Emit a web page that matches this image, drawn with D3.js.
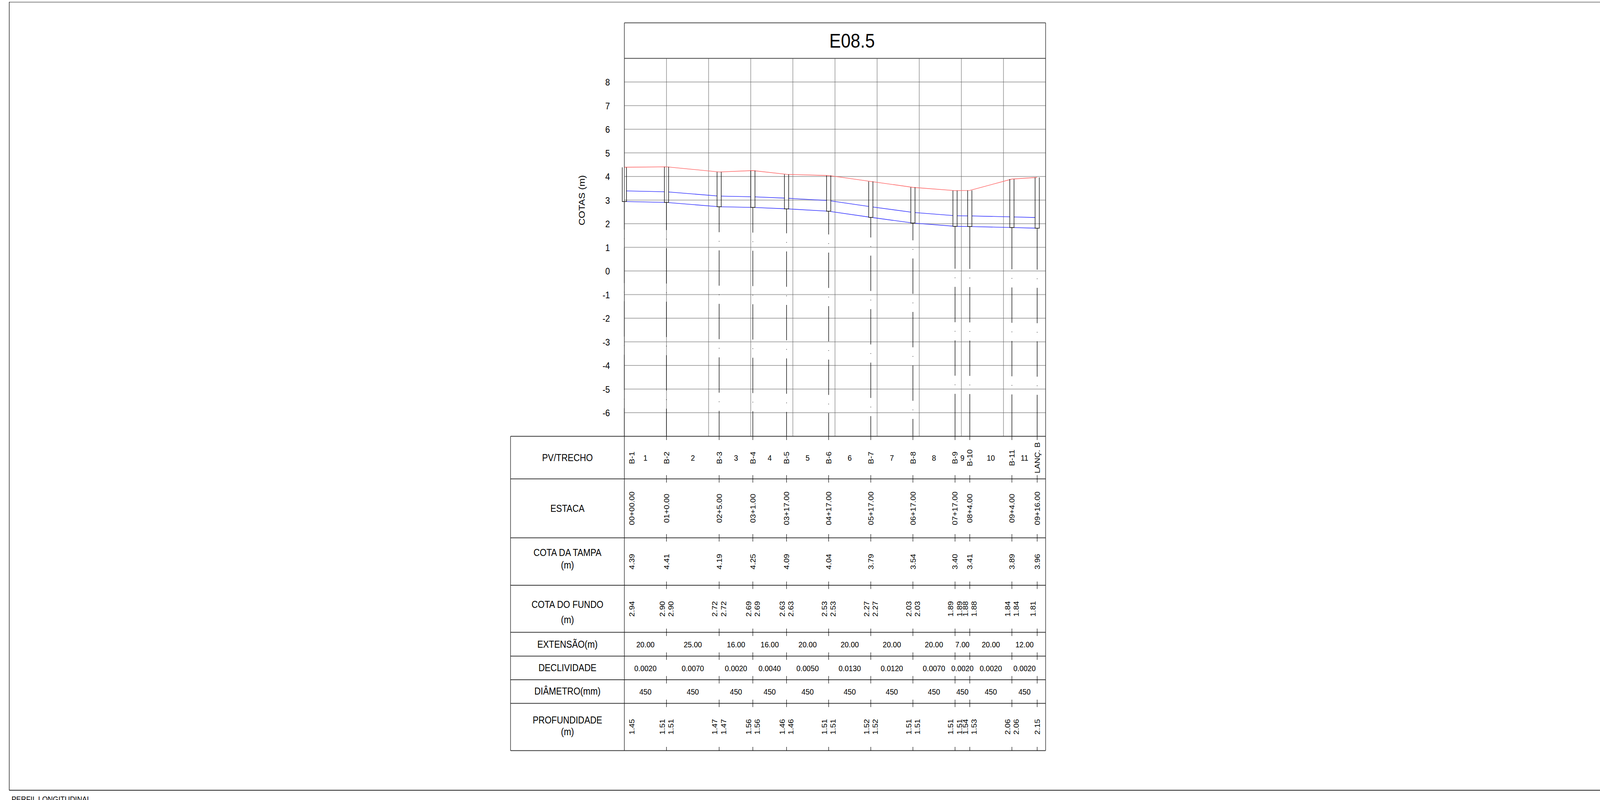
<!DOCTYPE html>
<html>
<head>
<meta charset="utf-8">
<script src="https://cdn.jsdelivr.net/npm/d3@7"></script>
<style>
    html, body { margin: 0; padding: 0; width: 100%; height: 100%; background: #fff; overflow: hidden; }
    svg { display: block; width: 100vw; height: 100vh; }
    text { font-family: "Liberation Sans", Arial, sans-serif; fill: #000; }
</style>
</head>
<body>
<div id="perfil"></div>
<script>
// Dados do perfil
const titulo = "E08.5";
const pvs = ["B-1", "B-2", "B-3", "B-4", "B-5", "B-6", "B-7", "B-8", "B-9", "B-10", "B-11", "LANÇ. B"];
const estacas = ["00+00.00", "01+0.00", "02+5.00", "03+1.00", "03+17.00", "04+17.00", "05+17.00", "06+17.00", "07+17.00", "08+4.00", "09+4.00", "09+16.00"];
const distancias = [0, 20, 45, 61, 77, 97, 117, 137, 157, 164, 184, 196];
const cotaTampa = [4.39, 4.41, 4.19, 4.25, 4.09, 4.04, 3.79, 3.54, 3.40, 3.41, 3.89, 3.96];
const cotaFundo = [[2.94], [2.90, 2.90], [2.72, 2.72], [2.69, 2.69], [2.63, 2.63], [2.53, 2.53], [2.27, 2.27], [2.03, 2.03], [1.89, 1.89], [1.88, 1.88], [1.84, 1.84], [1.81]];
const profundidade = [[1.45], [1.51, 1.51], [1.47, 1.47], [1.56, 1.56], [1.46, 1.46], [1.51, 1.51], [1.52, 1.52], [1.51, 1.51], [1.51, 1.51], [1.54, 1.53], [2.06, 2.06], [2.15]];
const trechos = ["1", "2", "3", "4", "5", "6", "7", "8", "9", "10", "11"];
const extensao = ["20.00", "25.00", "16.00", "16.00", "20.00", "20.00", "20.00", "20.00", "7.00", "20.00", "12.00"];
const declividade = ["0.0020", "0.0070", "0.0020", "0.0040", "0.0050", "0.0130", "0.0120", "0.0070", "0.0020", "0.0020", "0.0020"];
const diametro = [450, 450, 450, 450, 450, 450, 450, 450, 450, 450, 450];
const ticksCota = [8, 7, 6, 5, 4, 3, 2, 1, 0, -1, -2, -3, -4, -5, -6];
const ticksDistancia = [0, 20, 40, 60, 80, 100, 120, 140, 160, 180, 200];
const linhasTabela = [
    { nome: ["PV/TRECHO"], base: [1181.5], topo: 1117.5, fundo: 1226.5 },
    { nome: ["ESTACA"], base: [1311], topo: 1226.5, fundo: 1377.5 },
    { nome: ["COTA DA TAMPA", "(m)"], base: [1424, 1456], topo: 1377.5, fundo: 1499 },
    { nome: ["COTA DO FUNDO", "(m)"], base: [1557, 1596.5], topo: 1499, fundo: 1619.5 },
    { nome: ["EXTENSÃO(m)"], base: [1659], topo: 1619.5, fundo: 1680.5 },
    { nome: ["DECLIVIDADE"], base: [1719], topo: 1680.5, fundo: 1741 },
    { nome: ["DIÂMETRO(mm)"], base: [1779], topo: 1741, fundo: 1801.5 },
    { nome: ["PROFUNDIDADE", "(m)"], base: [1853, 1883], topo: 1801.5, fundo: 1922.5 }
];

// A folha tem 4596x2049; o viewBox ajusta a folha inteira à janela
const width = 4596;
const height = 2049;

const x = d3.scaleLinear().domain([0, 200]).range([1793.5, 3003.5]);
const y = d3.scaleLinear().domain([-7, 9]).range([1117.5, 149.5]);

const svg = d3.select("#perfil")
    .append("svg")
    .attr("viewBox", `0 0 ${width} ${height}`)
    .attr("preserveAspectRatio", "none");

// Moldura externa
svg.append("line").attr("x1", 26.5).attr("x2", width).attr("y1", 5.5).attr("y2", 5.5).attr("stroke", "#999").attr("stroke-width", 2.5);
svg.append("line").attr("x1", 26.5).attr("x2", 26.5).attr("y1", 5).attr("y2", 2024).attr("stroke", "#111").attr("stroke-width", 1.5);
svg.append("line").attr("x1", 26.5).attr("x2", width).attr("y1", 2024).attr("y2", 2024).attr("stroke", "#222").attr("stroke-width", 1.8);

svg.append("text")
    .attr("x", 33).attr("y", 2054.5)
    .attr("font-size", 20.5)
    .text("PERFIL LONGITUDINAL");

// Grade
svg.append("g").selectAll("line")
    .data(ticksCota)
    .enter()
    .append("line")
    .attr("x1", x(0)).attr("x2", x(200))
    .attr("y1", d => y(d)).attr("y2", d => y(d))
    .attr("stroke", "#a8a8a8").attr("stroke-width", 2);

svg.append("g").selectAll("line")
    .data(ticksDistancia.slice(1, -1))
    .enter()
    .append("line")
    .attr("x1", d => x(d)).attr("x2", d => x(d))
    .attr("y1", y(9)).attr("y2", y(-7))
    .attr("stroke", "#666").attr("stroke-width", 1.2);

// Eixo de cotas
const eixoY = d3.axisLeft(y).tickValues(ticksCota).tickSize(0).tickPadding(0).tickFormat(d => String(d));
const gEixo = svg.append("g")
    .attr("transform", "translate(1752,0)")
    .call(eixoY);
gEixo.select(".domain").remove();
gEixo.selectAll("text")
    .attr("font-size", 24)
    .style("font-family", '"Liberation Sans", Arial, sans-serif')
    .attr("dy", "0.36em");

svg.append("text")
    .attr("transform", "translate(1679.5,513) rotate(-90)")
    .attr("text-anchor", "middle")
    .attr("font-size", 25)
    .text("COTAS (m)");

// Linhas do perfil
const linha = d3.line().x(d => x(d[0])).y(d => y(d[1]));
const larguraPv = 1; // meia largura do PV, em metros

const clip = svg.append("defs").append("clipPath").attr("id", "entre-pvs");
clip.selectAll("rect")
    .data(d3.pairs(distancias))
    .enter()
    .append("rect")
    .attr("x", d => x(d[0] + larguraPv))
    .attr("width", d => x(d[1] - larguraPv) - x(d[0] + larguraPv))
    .attr("y", y(9)).attr("height", y(-7) - y(9));

const segmentosFundo = d3.pairs(cotaFundo.map((f, i) => ({ s: distancias[i], f })))
    .map(([a, b]) => [[a.s, a.f[a.f.length - 1]], [b.s, b.f[0]]]);

const pipes = svg.append("g")
    .attr("clip-path", "url(#entre-pvs)")
    .attr("fill", "none")
    .attr("stroke", "#3a3aff")
    .attr("stroke-width", 1.6);

pipes.selectAll(".geratriz-inferior")
    .data(segmentosFundo)
    .enter()
    .append("path")
    .attr("class", "geratriz-inferior")
    .attr("d", d => linha(d));

pipes.selectAll(".geratriz-superior")
    .data(segmentosFundo)
    .enter()
    .append("path")
    .attr("class", "geratriz-superior")
    .attr("d", (d, i) => linha(d.map(p => [p[0], p[1] + diametro[i] / 1000])));

svg.append("path")
    .attr("d", linha(distancias.map((s, i) => [s, cotaTampa[i]])))
    .attr("fill", "none")
    .attr("stroke", "#ff6e6e")
    .attr("stroke-width", 1.6);

// Poços de visita
const pocos = svg.append("g").attr("fill", "none").attr("stroke", "#000").attr("stroke-width", 1.5);
pocos.selectAll("path")
    .data(distancias)
    .enter()
    .append("path")
    .attr("d", (s, i) => {
        const fundo = y(d3.min(cotaFundo[i]));
        return `M${x(s - larguraPv)},${y(cotaTampa[i])}V${fundo}H${x(s + larguraPv)}V${y(cotaTampa[i])}`;
    });

// Linha traço-ponto abaixo de cada PV, com o padrão centrado no comprimento
const traco = 90.5, vazio = 22.5, ponto = 1.5;
const periodo = traco + 2 * vazio + ponto;
const meioPadrao = 2 * vazio + ponto;

function padraoEixo(L) {
    const k = Math.floor((L - meioPadrao - 88) / periodo);
    const ponta = (L - meioPadrao - k * periodo) / 2;
    const partes = [ponta, vazio, ponto, vazio];
    for (let j = 0; j < k; j++) partes.push(traco, vazio, ponto, vazio);
    partes.push(ponta);
    return partes.join(" ");
}

svg.append("g").selectAll("line")
    .data(distancias)
    .enter()
    .append("line")
    .attr("x1", d => x(d)).attr("x2", d => x(d))
    .attr("y1", (s, i) => y(d3.min(cotaFundo[i])))
    .attr("y2", y(-7))
    .attr("stroke", "#000").attr("stroke-width", 1.5)
    .attr("stroke-dasharray", (s, i) => padraoEixo(y(-7) - y(d3.min(cotaFundo[i]))));

// Tabela
const xTabela = 1466.5;
const tabela = svg.append("g");

const limites = [linhasTabela[0].topo].concat(linhasTabela.map(d => d.fundo));
tabela.selectAll(".linha-tabela")
    .data(limites)
    .enter()
    .append("line")
    .attr("class", "linha-tabela")
    .attr("x1", xTabela).attr("x2", x(200))
    .attr("y1", d => d).attr("y2", d => d)
    .attr("stroke", "#333").attr("stroke-width", 2);

// Caixa do título e bordas
tabela.append("line").attr("x1", x(0)).attr("x2", x(200)).attr("y1", 58.5).attr("y2", 58.5).attr("stroke", "#444").attr("stroke-width", 2);
tabela.append("line").attr("x1", x(0)).attr("x2", x(200)).attr("y1", y(9)).attr("y2", y(9)).attr("stroke", "#444").attr("stroke-width", 2.2);
tabela.append("line").attr("x1", x(0)).attr("x2", x(0)).attr("y1", 58.5).attr("y2", 1922.5).attr("stroke", "#222").attr("stroke-width", 1.5);
tabela.append("line").attr("x1", x(200)).attr("x2", x(200)).attr("y1", 58.5).attr("y2", 1922.5).attr("stroke", "#222").attr("stroke-width", 1.5);
tabela.append("line").attr("x1", xTabela).attr("x2", xTabela).attr("y1", 1117.5).attr("y2", 1922.5).attr("stroke", "#222").attr("stroke-width", 1.5);

tabela.append("text")
    .attr("x", 2447.5).attr("y", 122)
    .attr("text-anchor", "middle")
    .attr("font-size", 50)
    .text(titulo);

// Nomes das linhas
linhasTabela.forEach(l => {
    l.nome.forEach((t, i) => {
        tabela.append("text")
            .attr("x", (xTabela + x(0)) / 2)
            .attr("y", l.base[i])
            .attr("text-anchor", "middle")
            .attr("font-size", 25)
            .text(t);
    });
});

// Marcas das estacas nas linhas da tabela
const marcas = tabela.append("g").attr("stroke", "#000").attr("stroke-width", 1.3);
limites.forEach((yl, n) => {
    marcas.selectAll(null)
        .data(distancias.slice(1))
        .enter()
        .append("line")
        .attr("x1", d => x(d)).attr("x2", d => x(d))
        .attr("y1", n === 0 ? yl : yl - 9.5)
        .attr("y2", n === limites.length - 1 ? yl : yl + 9.5);
});

// Textos verticais; o primeiro PV fica deslocado para dentro da tabela
const xPv = i => (i === 0 ? 1814.5 : x(distancias[i]));

function vertical(txt, px, py) {
    tabela.append("text")
        .attr("transform", `translate(${px},${py}) rotate(-90)`)
        .attr("text-anchor", "middle")
        .attr("dy", "0.36em")
        .attr("font-size", 20.5)
        .text(txt);
}

pvs.forEach((d, i) => vertical(d, xPv(i), 1172.5));
estacas.forEach((d, i) => vertical(d, xPv(i), 1302));
cotaTampa.forEach((d, i) => vertical(d.toFixed(2), xPv(i), 1438.5));

const afastamento = 12.5;
cotaFundo.forEach((vals, i) => {
    if (vals.length === 2) {
        vals.forEach((v, j) => vertical(v.toFixed(2), x(distancias[i]) + (j ? afastamento : -afastamento), 1559.5));
    } else {
        vertical(vals[0].toFixed(2), i === 0 ? xPv(i) : x(distancias[i]) - afastamento, 1559.5);
    }
});
profundidade.forEach((vals, i) => {
    if (vals.length === 2) {
        vals.forEach((v, j) => vertical(v.toFixed(2), x(distancias[i]) + (j ? afastamento : -afastamento), 1861.5));
    } else {
        vertical(vals[0].toFixed(2), xPv(i), 1861.5);
    }
});

// Textos horizontais, no meio de cada trecho
const meio = i => x((distancias[i] + distancias[i + 1]) / 2);

function horizontais(lista, base) {
    tabela.append("g").selectAll("text")
        .data(lista)
        .enter()
        .append("text")
        .attr("x", (d, i) => meio(i))
        .attr("y", base)
        .attr("text-anchor", "middle")
        .attr("font-size", 21)
        .text(d => d);
}

horizontais(trechos, 1180);
horizontais(extensao, 1658);
horizontais(declividade, 1719);
horizontais(diametro, 1779);
</script>
</body>
</html>
